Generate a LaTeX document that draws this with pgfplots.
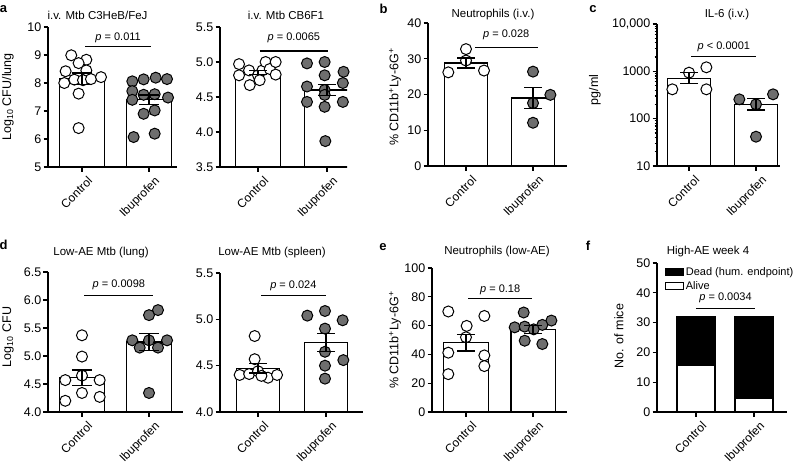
\documentclass[border=0pt]{standalone}
\usepackage{pgfplots}
\pgfplotsset{compat=1.18}
\usepackage{fontspec}
\setmainfont{Liberation Sans}
\definecolor{dotgray}{RGB}{110,110,110}

\pgfplotsset{
  panel/.style={
    anchor=south west, scale only axis,
    axis lines=left, axis line style={-, line width=1.2pt},
    tick align=outside, major tick length=4.5pt, minor tick length=2.5pt,
    every tick/.style={black, line width=1.2pt},
    xtick={0,1}, xticklabels={Control,Ibuprofen},
    xticklabel style={xshift=5pt, yshift=-2.5pt, rotate=45, anchor=north east, inner sep=1pt,
      font=\fontsize{12}{12}\selectfont},
    yticklabel style={font=\fontsize{12.5}{12.5}\selectfont, inner sep=2pt},
    /pgf/number format/assume math mode=true,
    clip mode=individual,
  },
  onedec/.style={yticklabel style={/pgf/number format/.cd, fixed, fixed zerofill, precision=1}},
  bars/.style={ybar, bar width=#1, fill=white, draw=black, line width=1.2pt},
  ctrl/.style={only marks, mark=*, mark size=5.5pt, mark options={fill=white, draw=black, line width=1pt}},
  ibu/.style={only marks, mark=*, mark size=5.5pt, mark options={fill=dotgray, draw=black, line width=1pt}},
  sem/.style={draw=none, mark=none, forget plot, error bars/.cd, y dir=both, y explicit,
    error mark=|,
    error bar style={draw=black, line width=1.2pt},
    error mark options={draw=black, line width=1.2pt, mark size=#1}},
}
\tikzset{
  pbar/.style={line width=1.2pt},
  ptext/.style={font=\fontsize{11}{11}\selectfont},
}
\newcommand{\pv}[1]{\textit{p} #1}

\begin{document}
\begin{tikzpicture}
\path[use as bounding box] (0pt,0pt) rectangle (797pt,-464pt);

% ---- a (left): C3HeB/FeJ
\begin{axis}[panel, at={(48pt,-167pt)}, width=129pt, height=140pt,
  xmin=-0.507, xmax=1.418, ymin=5, ymax=10, ytick={5,6,...,10}]
\addplot[bars=0.67] coordinates {(0,8.15) (1,7.40)};
\addplot[ctrl] coordinates {(-0.16,8.99) (0.065,8.83) (-0.05,8.71) (-0.244,8.42) (0.065,8.45)
  (-0.264,8.0) (-0.114,8.12) (0.015,8.10) (0.134,8.14) (0.284,8.21) (-0.05,7.62) (-0.05,6.39)};
\addplot[ibu] coordinates {(0.751,8.06) (0.92,8.13) (1.1,8.19) (1.269,8.14) (0.751,7.71)
  (0.92,7.58) (1.085,7.6) (0.751,7.40) (1.284,7.48) (0.92,6.9) (1.085,7.02) (0.771,6.07) (1.085,6.19)};
\addplot[sem=10pt] coordinates {(0,8.15) +- (0,0.21) (1,7.40) +- (0,0.17)};
\draw[pbar] (axis cs:0.05,9.31) -- (axis cs:1.035,9.31);
\node[ptext] at (axis cs:0.54,9.63) {\pv{= 0.011}};
\end{axis}

% ---- a (right): CB6F1
\begin{axis}[panel, onedec, at={(220pt,-167pt)}, width=127pt, height=140pt,
  xmin=-0.551, xmax=1.29, ymin=3.5, ymax=5.5, ytick={3.5,4.0,4.5,5.0,5.5}]
\addplot[bars=0.65] coordinates {(0,4.85) (1,4.60)};
\addplot[ctrl] coordinates {(-0.275,4.97) (-0.275,4.81) (-0.13,4.88) (-0.12,4.67) (0,4.81)
  (0.063,4.88) (0.11,5.0) (0.17,4.90) (0.256,5.0) (0.256,4.82) (0.024,4.74)};
\addplot[ibu] coordinates {(0.71,4.98) (0.966,5.0) (1.24,4.86) (0.966,4.81) (1.23,4.70)
  (0.71,4.65) (0.966,4.6) (0.71,4.43) (1.23,4.43) (0.966,4.36) (0.976,3.87) (0.966,4.53)};
\addplot[sem=9pt] coordinates {(0,4.85) +- (0,0.03) (1,4.60) +- (0,0.08)};
\draw[pbar] (axis cs:0.024,5.157) -- (axis cs:1.014,5.157);
\node[ptext] at (axis cs:0.52,5.34) {\pv{= 0.0065}};
\end{axis}

% ---- b
\begin{axis}[panel, at={(428pt,-166pt)}, width=139pt, height=143pt,
  xmin=-0.567, xmax=1.507, ymin=0, ymax=40, ytick={0,10,...,40}]
\addplot[bars=0.64] coordinates {(0,28.8) (1,19.0)};
\addplot[ctrl] coordinates {(0,32.7) (0,29.5) (-0.264,26.2) (0.269,26.7)};
\addplot[ibu] coordinates {(1,26.4) (1.259,19.9) (1,17.6) (1,12.1)};
\addplot[sem=9pt] coordinates {(0,28.8) +- (0,1.4) (1,19.0) +- (0,3.0)};
\draw[pbar] (axis cs:0.134,33.2) -- (axis cs:1.08,33.2);
\node[ptext] at (axis cs:0.6,36.6) {\pv{= 0.028}};
\end{axis}

% ---- c
\begin{axis}[panel, at={(657pt,-166pt)}, width=123pt, height=142pt,
  xmin=-0.478, xmax=1.358, ymode=log, log origin y=infty, ymin=10, ymax=10000,
  ytick={10,100,1000,10000}, yticklabels={10,100,1000,{10,000}},
  minor ytick={20,30,40,50,60,70,80,90,200,300,400,500,600,700,800,900,2000,3000,4000,5000,6000,7000,8000,9000}]
\addplot[bars=0.64] coordinates {(0,711) (1,201)};
\addplot[ctrl] coordinates {(0,937) (0.259,1217) (-0.249,417) (0.259,417)};
\addplot[ibu] coordinates {(0.751,256) (1.254,327) (1,201) (1,41.6)};
\addplot[sem=9pt] coordinates {(0,711) += (0,226) -= (0,154) (1,201) += (0,62) -= (0,49)};
\draw[pbar] (axis cs:0.035,2042) -- (axis cs:1.0,2042);
\node[ptext] at (axis cs:0.52,3300) {\pv{< 0.0001}};
\end{axis}

% ---- d (left): lung
\begin{axis}[panel, onedec, at={(48pt,-412pt)}, width=135pt, height=140pt,
  xmin=-0.507, xmax=1.507, ymin=4, ymax=6.5, ytick={4.0,4.5,...,6.5}]
\addplot[bars=0.67] coordinates {(0,4.61) (1,5.25)};
\addplot[ctrl] coordinates {(0,5.37) (0,4.99) (0,4.65) (-0.249,4.57) (0.264,4.57) (0,4.34) (0.264,4.27) (-0.249,4.2)};
\addplot[ibu] coordinates {(1.134,5.82) (1,5.73) (0.751,5.28) (1,5.28) (1.269,5.28) (0.861,5.15) (1.134,5.15) (1,4.34)};
\addplot[sem=10pt] coordinates {(0,4.61) +- (0,0.14) (1,5.25) +- (0,0.145)};
\draw[pbar] (axis cs:0.035,6.08) -- (axis cs:1.06,6.08);
\node[ptext] at (axis cs:0.55,6.28) {\pv{= 0.0098}};
\end{axis}

% ---- d (right): spleen
\begin{axis}[panel, onedec, at={(220pt,-412pt)}, width=143pt, height=139pt,
  xmin=-0.559, xmax=1.544, ymin=4, ymax=5.5, ytick={4.0,4.5,5.0,5.5}]
\addplot[bars=0.64] coordinates {(0,4.47) (1,4.75)};
\addplot[ctrl] coordinates {(-0.049,4.82) (-0.049,4.57) (-0.27,4.40) (-0.13,4.41) (0,4.44) (0.147,4.37) (0.28,4.40) (0.05,4.39)};
\addplot[ibu] coordinates {(0.725,5.04) (0.985,5.09) (1.245,4.99) (0.985,4.90) (0.985,4.65) (1.255,4.56) (0.985,4.50) (0.985,4.36)};
\addplot[sem=9pt] coordinates {(0,4.47) +- (0,0.05) (1,4.75) +- (0,0.1)};
\draw[pbar] (axis cs:0.05,5.26) -- (axis cs:1.0,5.26);
\node[ptext] at (axis cs:0.52,5.36) {\pv{= 0.024}};
\end{axis}

% ---- e
\begin{axis}[panel, at={(432pt,-412pt)}, width=135pt, height=144pt,
  xmin=-0.507, xmax=1.507, ymin=0, ymax=100, ytick={0,20,...,100}]
\addplot[bars=0.66] coordinates {(0,48) (1,57.4)};
\addplot[ctrl] coordinates {(-0.264,69.8) (0.274,66.7) (0.01,59.8) (0,51.9) (-0.264,41.2) (0.274,39.3) (0.274,31.9) (-0.264,26.3)};
\addplot[ibu] coordinates {(0.861,69.1) (1.274,63.5) (0.726,58.8) (0.876,59.3) (1.139,60.5) (1.01,57.4) (0.876,49.5) (1.139,47.2)};
\addplot[sem=9pt] coordinates {(0,48) +- (0,5.7) (1,57.4) +- (0,2.8)};
\draw[pbar] (axis cs:0.035,79.1) -- (axis cs:0.99,79.1);
\node[ptext] at (axis cs:0.51,84.8) {\pv{= 0.18}};
\end{axis}

% ---- f
\begin{axis}[panel, at={(657pt,-412pt)}, width=130pt, height=149pt,
  xmin=-0.672, xmax=1.569, ymin=0, ymax=50, ytick={0,10,...,50},
  ybar stacked, bar width=0.655, reverse legend,
  legend style={draw=none, fill=none, at={(0.06,0.985)}, anchor=north west,
    font=\fontsize{11}{11.5}\selectfont, inner sep=0pt, row sep=1pt},
  legend cell align=left,
  legend image code/.code={\draw[#1, line width=0.9pt] (0pt,-3pt) rectangle (18pt,4pt);}]
\addplot[fill=white, draw=black, line width=1.2pt] coordinates {(0,15.7) (1,4.6)};
\addlegendentry{Alive}
\addplot[fill=black, draw=black, line width=1.2pt] coordinates {(0,16.3) (1,27.4)};
\addlegendentry{Dead (hum. endpoint)}
\draw[pbar] (axis cs:0,34.7) -- (axis cs:1.017,34.7);
\node[ptext] at (axis cs:0.51,38.2) {\pv{= 0.0034}};
\end{axis}

% titles, axis labels, panel letters
\begin{scope}[every node/.style={font=\fontsize{11.5}{11.5}\selectfont}]
\node at (97.5pt,-15pt) {i.v. Mtb C3HeB/FeJ};
\node at (286pt,-15pt) {i.v. Mtb CB6F1};
\node at (493pt,-15pt) {Neutrophils (i.v.)};
\node at (727pt,-15pt) {IL-6 (i.v.)};
\node at (101pt,-253pt) {Low-AE Mtb (lung)};
\node at (272pt,-253pt) {Low-AE Mtb (spleen)};
\node at (497pt,-252pt) {Neutrophils (low-AE)};
\node at (708pt,-252pt) {High-AE week 4};
\end{scope}
\begin{scope}[every node/.style={rotate=90, font=\fontsize{12.5}{12.5}\selectfont}]
\node at (8pt,-97pt) {Log\textsubscript{10} CFU/lung};
\node at (395pt,-97pt) {\% CD11b\textsuperscript{+}Ly-6G\textsuperscript{+}};
\node at (595pt,-90pt) {pg/ml};
\node at (8pt,-337pt) {Log\textsubscript{10} CFU};
\node at (395pt,-340pt) {\% CD11b\textsuperscript{+}Ly-6G\textsuperscript{+}};
\node at (619pt,-336pt) {No. of mice};
\end{scope}
\begin{scope}[every node/.style={font=\bfseries\fontsize{13}{13}\selectfont}]
\node at (3.5pt,-9.5pt) {a};
\node at (383.5pt,-9pt) {b};
\node at (593pt,-9.5pt) {c};
\node at (3.5pt,-245pt) {d};
\node at (383pt,-247pt) {e};
\node at (588pt,-246pt) {f};
\end{scope}
\end{tikzpicture}
\end{document}
